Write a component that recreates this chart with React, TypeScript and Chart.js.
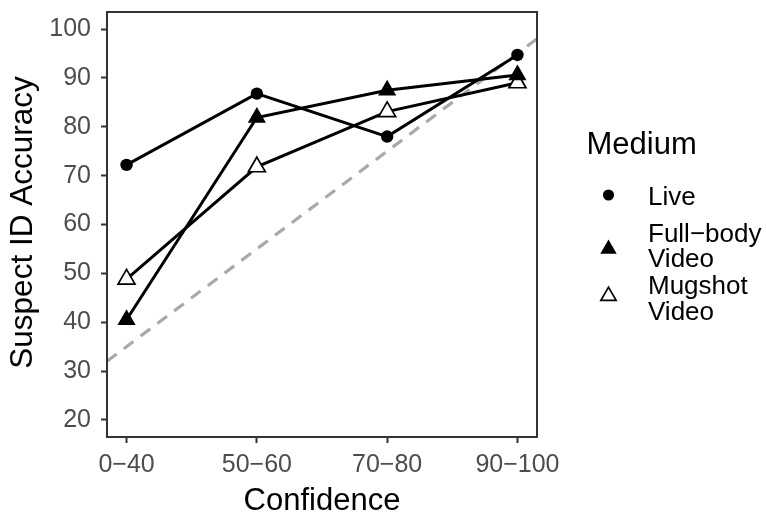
import React, { useEffect, useRef } from 'react';
import { Chart, registerables } from 'chart.js';

Chart.register(...registerables);

const FONT = '"Liberation Sans", Arial, Helvetica, sans-serif';

// ---- data ----
const categories = ['0−40', '50−60', '70−80', '90−100'];
const liveValues = [72.2, 86.8, 78.0, 94.7];
const fullBodyValues = [40.5, 81.9, 87.5, 90.6];
const mugshotValues = [48.8, 71.8, 83.1, 89.0];
const yTickValues = [20, 30, 40, 50, 60, 70, 80, 90, 100];
const legendTitle = 'Medium';
const liveLabel = ['Live'];
const fullBodyLabel = ['Full−body', 'Video'];
const mugshotLabel = ['Mugshot', 'Video'];
const xTitle = 'Confidence';
const yTitle = 'Suspect ID Accuracy';
// perfect-calibration reference line (dashed), at the x-range ends
const refLineX = [-0.15, 3.15];
const refLineY = [32, 98];

const toPoints = (vals: number[]) => vals.map((v, i) => ({ x: i, y: v }));

type Series = {
  label: string[];
  values: number[];
  style: 'circle' | 'triangle';
  radius: number;
  fill: string;
  borderWidth: number;
};

const series: Series[] = [
  { label: liveLabel, values: liveValues, style: 'circle', radius: 6.2, fill: '#000000', borderWidth: 0 },
  { label: fullBodyLabel, values: fullBodyValues, style: 'triangle', radius: 10.5, fill: '#000000', borderWidth: 0 },
  { label: mugshotLabel, values: mugshotValues, style: 'triangle', radius: 9.8, fill: '#ffffff', borderWidth: 1.7 },
];

function drawMarker(ctx: CanvasRenderingContext2D, s: Series, x: number, y: number, scale: number) {
  ctx.beginPath();
  if (s.style === 'circle') {
    ctx.arc(x, y, s.radius * scale, 0, Math.PI * 2);
  } else {
    const r = s.radius * scale;
    ctx.moveTo(x, y - r);
    ctx.lineTo(x + r * Math.sin((2 * Math.PI) / 3), y + r / 2);
    ctx.lineTo(x - r * Math.sin((2 * Math.PI) / 3), y + r / 2);
    ctx.closePath();
  }
  ctx.fillStyle = s.fill;
  ctx.fill();
  if (s.borderWidth > 0) {
    ctx.lineWidth = s.borderWidth;
    ctx.strokeStyle = '#000000';
    ctx.stroke();
  }
}

const panelBorderPlugin = {
  id: 'panelBorder',
  afterDatasetsDraw(chart: any) {
    const { ctx, chartArea } = chart;
    ctx.save();
    ctx.lineWidth = 2;
    ctx.strokeStyle = '#333333';
    ctx.strokeRect(chartArea.left, chartArea.top, chartArea.right - chartArea.left, chartArea.bottom - chartArea.top);
    ctx.restore();
  },
};

const axisTitlePlugin = {
  id: 'axisTitles',
  afterDraw(chart: any) {
    const ctx: CanvasRenderingContext2D = chart.ctx;
    const { chartArea } = chart;
    ctx.save();
    ctx.fillStyle = '#000000';
    ctx.textAlign = 'center';
    ctx.textBaseline = 'alphabetic';
    ctx.font = `31px ${FONT}`;
    ctx.fillText(xTitle, (chartArea.left + chartArea.right) / 2, 510);
    ctx.translate(32, (chartArea.top + chartArea.bottom) / 2 - 2);
    ctx.rotate(-Math.PI / 2);
    ctx.font = `31.5px ${FONT}`;
    ctx.fillText(yTitle, 0, 0);
    ctx.restore();
  },
};

const legendPlugin = {
  id: 'mediumLegend',
  afterDraw(chart: any) {
    const ctx: CanvasRenderingContext2D = chart.ctx;
    ctx.save();
    ctx.fillStyle = '#000000';
    ctx.textAlign = 'left';
    ctx.textBaseline = 'alphabetic';
    ctx.font = `31px ${FONT}`;
    ctx.fillText(legendTitle, 586.5, 153.5);

    const markerX = 608.5;
    const textX = 648;
    const markerY = [195, 249, 296];
    const firstBaseline = [205, 241.7, 294];
    const lineGap = 25.5;
    ctx.font = `26px ${FONT}`;
    series.forEach((s, i) => {
      drawMarker(ctx, s, markerX, markerY[i], 0.9);
      ctx.fillStyle = '#000000';
      s.label.forEach((line, j) => {
        ctx.fillText(line, textX, firstBaseline[i] + j * lineGap);
      });
    });
    ctx.restore();
  },
};

export default function App() {
  const canvasRef = useRef<HTMLCanvasElement | null>(null);

  useEffect(() => {
    if (!canvasRef.current) return;

    const lineDatasets = series.map((s) => ({
      label: s.label.join(' ') + ' line',
      data: toPoints(s.values),
      borderColor: '#000000',
      borderWidth: 3,
      pointRadius: 0,
      fill: false,
      tension: 0,
      order: 4,
    }));

    const pointDatasets = series.map((s, i) => ({
      label: s.label.join(' '),
      data: toPoints(s.values),
      showLine: false,
      pointStyle: s.style,
      pointRadius: s.radius,
      pointBackgroundColor: s.fill,
      pointBorderColor: '#000000',
      pointBorderWidth: s.borderWidth,
      order: i + 1,
    }));

    const refDataset = {
      label: 'reference',
      data: refLineX.map((x, i) => ({ x, y: refLineY[i] })),
      borderColor: '#A9A9A9',
      borderWidth: 3.2,
      borderDash: [12, 9],
      pointRadius: 0,
      fill: false,
      order: 10,
    };

    const chart = new Chart(canvasRef.current, {
      type: 'line',
      data: { datasets: [refDataset, ...lineDatasets, ...pointDatasets] as any },
      plugins: [panelBorderPlugin, axisTitlePlugin, legendPlugin],
      options: {
        animation: false,
        responsive: false,
        devicePixelRatio: 1,
        events: [],
        layout: { padding: { left: 0, top: 12, right: 229, bottom: 0 } },
        plugins: {
          legend: { display: false },
          tooltip: { enabled: false },
          title: { display: false },
        },
        scales: {
          x: {
            type: 'linear',
            min: -0.15,
            max: 3.15,
            afterBuildTicks: (scale: any) => {
              scale.ticks = categories.map((_, i) => ({ value: i }));
            },
            afterFit: (scale: any) => {
              scale.height = 79;
              scale.paddingLeft = 0;
              scale.paddingRight = 0;
            },
            ticks: {
              callback: (v: any) => categories[Math.round(Number(v))] ?? '',
              color: '#4D4D4D',
              font: { family: FONT, size: 25 },
              padding: 7,
              maxRotation: 0,
              autoSkip: false,
            },
            grid: {
              display: true,
              drawOnChartArea: false,
              drawTicks: true,
              tickLength: 6,
              tickColor: '#333333',
              tickWidth: 2,
            },
            border: { display: false },
            title: { display: false },
          },
          y: {
            type: 'linear',
            min: 16.5,
            max: 103.5,
            afterBuildTicks: (scale: any) => {
              scale.ticks = yTickValues.map((v) => ({ value: v }));
            },
            afterFit: (scale: any) => {
              scale.width = 107;
              scale.paddingTop = 0;
              scale.paddingBottom = 0;
            },
            ticks: {
              color: '#4D4D4D',
              font: { family: FONT, size: 25 },
              padding: 10,
              autoSkip: false,
            },
            grid: {
              display: true,
              drawOnChartArea: false,
              drawTicks: true,
              tickLength: 6,
              tickColor: '#333333',
              tickWidth: 2,
            },
            border: { display: false },
            title: { display: false },
          },
        },
      } as any,
    });

    return () => {
      chart.destroy();
    };
  }, []);

  return (
    <div style={{ position: 'absolute', left: 0, top: 0, width: 766, height: 516, background: '#ffffff' }}>
      <canvas ref={canvasRef} width={766} height={516} style={{ display: 'block' }} />
    </div>
  );
}
